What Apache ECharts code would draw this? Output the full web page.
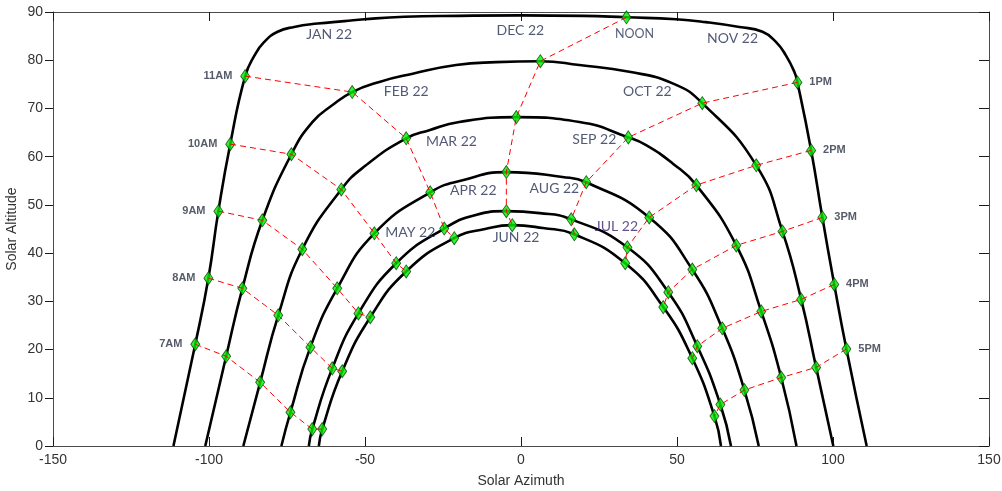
<!DOCTYPE html>
<html><head><meta charset="utf-8">
<script src="https://cdn.jsdelivr.net/npm/echarts@6/dist/echarts.min.js"></script>
<style>html,body{margin:0;padding:0;background:#fff}#c{width:1002px;height:491px}</style>
</head><body><div id="c"></div>
<script>
// ---------- DATA ----------
const hours = ['7AM','8AM','9AM','10AM','11AM','NOON','1PM','2PM','3PM','4PM','5PM'];
const xTickValues = [-150, -100, -50, 0, 50, 100, 150];
const yTickValues = [0, 10, 20, 30, 40, 50, 60, 70, 80, 90];

// Hour markers on each sun-path curve (azimuth, altitude), 7AM..5PM
const decAz  = [-104.4, -100.2, -97.0, -93.2, -88.4, 33.8, 88.6, 93.0, 96.6, 100.4, 104.3];
const decAlt = [21.1, 34.8, 48.7, 62.6, 76.7, 88.9, 75.4, 61.3, 47.4, 33.5, 20.1];
const febAz  = [-94.5, -89.3, -82.9, -73.6, -54.1, 6.2, 58.1, 75.4, 83.8, 89.8, 94.6];
const febAlt = [18.6, 32.7, 46.8, 60.5, 73.4, 79.8, 71.1, 58.2, 44.5, 30.4, 16.3];
const marAz  = [-83.6, -77.8, -70.1, -57.6, -36.8, -1.5, 34.4, 56.2, 69.0, 77.0, 83.4];
const marAlt = [13.2, 27.1, 40.8, 53.2, 63.8, 68.2, 64.0, 54.1, 41.6, 27.9, 14.2];
const aprAz  = [-73.9, -67.5, -58.9, -47.0, -29.1, -4.7, 20.9, 41.1, 54.9, 64.5, 71.6];
const aprAlt = [7.0, 20.5, 32.7, 44.1, 52.6, 56.8, 54.7, 47.4, 36.6, 24.4, 11.6];
const mayAz  = [-66.9, -60.5, -52.1, -40.0, -24.6, -4.7, 16.1, 34.1, 47.2, 56.5, 63.9];
const mayAlt = [3.5, 16.1, 27.5, 37.9, 45.1, 48.7, 47.0, 41.2, 31.9, 20.7, 8.6];
const junAz  = [-63.7, -57.3, -48.3, -36.8, -21.4, -2.8, 17.1, 33.4, 45.6, 54.9, 62.0];
const junAlt = [3.5, 15.5, 26.7, 36.2, 43.1, 45.8, 43.9, 37.9, 28.8, 18.2, 6.2];

// Extra points along each sun-path curve
const decPath = [[-111.4,0],[-85.4,81.0],[-82.3,83.8],[-78.0,85.9],[-72.7,86.9],[-65.2,87.6],[-56.6,88.1],[-50.2,88.5],[-37.4,89.0],[-20,89.2],[0,89.3],[20,89.2],[49.7,88.5],[59.3,87.9],[70.0,86.9],[77.4,85.9],[81.7,83.8],[84.9,81.0],[87.6,77.6],[110.8,0]];
const febPath = [[-101.2,0],[-66.8,67.2],[-60.4,70.7],[-45.4,75.5],[-34.7,77.2],[-20.8,79.0],[-8,79.6],[18.7,79.0],[34.7,77.6],[48.6,75.2],[100.1,0]];
const marPath = [[-89.0,0],[-49.7,58.2],[-29.4,65.5],[-19.8,67.2],[18.7,67.2],[40.1,62.4],[48.6,58.6],[88.3,0]];
const aprPath = [[-76.8,0],[-18.7,55.1],[13.3,55.8],[76.2,0]];
const mayPath = [[-68.0,0],[-14.5,47.9],[6,48.3],[67.3,0]];
const junPath = [[-64.8,0],[-11.5,45.0],[7,45.2],[64.1,0]];

// Month labels
const monthNames = ['JAN 22','DEC 22','NOV 22','FEB 22','OCT 22','MAR 22','SEP 22','APR 22','AUG 22','MAY 22','JUL 22','JUN 22'];
const monthAz  = [-61.5, -0.2, 67.8, -36.8, 40.5, -22.3, 23.5, -15.3, 10.7, -35.5, 30.6, -1.6];
const monthAlt = [85.3, 86.2, 84.5, 73.6, 73.5, 63.2, 63.5, 53.0, 53.4, 44.3, 45.6, 43.2];

// ---------- BUILD ----------
const curves = [
  [decAz, decAlt, decPath], [febAz, febAlt, febPath], [marAz, marAlt, marPath],
  [aprAz, aprAlt, aprPath], [mayAz, mayAlt, mayPath], [junAz, junAlt, junPath]
];
const series = [];
curves.forEach(([az, alt, extra]) => {
  const pts = az.map((a, i) => [a, alt[i]]).concat(extra).sort((p, q) => p[0] - q[0]);
  series.push({
    type: 'line', data: pts, smooth: 0.5, showSymbol: false, symbol: 'none',
    lineStyle: { color: '#000', width: 2.6 }, z: 2, silent: true, animation: false
  });
});
// markers
const markerPts = [];
curves.slice(1).forEach(([az, alt]) => az.forEach((a, i) => markerPts.push([a, alt[i]])));
const markerStyle = { color: '#00f000', borderColor: '#0b3d0b', borderWidth: 0.9 };
series.push({
  type: 'scatter', data: markerPts, symbol: 'diamond', symbolSize: [9, 13],
  itemStyle: markerStyle, z: 3, animation: false
});
// outer curve markers with hour labels
const hourFont = { fontFamily: 'Liberation Sans', fontWeight: 'bold', fontSize: 11, color: '#2b3244' };
series.push({
  type: 'scatter', symbol: 'diamond', symbolSize: [9, 13], itemStyle: markerStyle, z: 3, animation: false,
  data: decAz.map((a, i) => {
    let label;
    if (i < 5) label = Object.assign({ show: true, position: 'left', distance: 8 }, hourFont);
    else if (i > 5) label = Object.assign({ show: true, position: 'right', distance: 7 }, hourFont);
    else label = { show: true, position: 'bottom', distance: 3, offset: [8, 0], fontFamily: 'Lato', fontSize: 12.5, color: '#2b3454' };
    return { value: [a, decAlt[i]], label: Object.assign(label, { formatter: hours[i] }) };
  })
});
// hour lines
hours.forEach((h, i) => {
  series.push({
    type: 'line', data: curves.map(c => [c[0][i], c[1][i]]), smooth: false, showSymbol: false, symbol: 'none',
    lineStyle: { color: '#ff0000', width: 1, type: [6, 4] }, z: 4, silent: true, animation: false
  });
});
// month labels
series.push({
  type: 'scatter', symbolSize: 0, silent: true, z: 5, animation: false,
  data: monthNames.map((m, i) => ({
    value: [monthAz[i], monthAlt[i]],
    label: { show: true, position: 'inside', formatter: m, fontFamily: 'Lato',
      fontSize: 14, color: m === 'JUL 22' ? '#3a2470' : '#263052' }
  }))
});

const axisLine = { show: true, onZero: false, lineStyle: { color: '#4a4a4a', width: 1 } };
const tickStyle = { color: '#1a1a1a', width: 1 };
const tickLabel = { fontFamily: 'Liberation Sans', fontSize: 14, color: '#333' };
const chart = echarts.init(document.getElementById('c'), null, { renderer: 'canvas' });
chart.setOption({
  animation: false,
  backgroundColor: '#fff',
  grid: { left: 53, right: 13, top: 12, bottom: 45, containLabel: false, outerBoundsMode: 'none' },
  xAxis: [
    { type: 'value', position: 'bottom', min: xTickValues[0], max: xTickValues[xTickValues.length - 1], interval: xTickValues[1] - xTickValues[0],
      splitLine: { show: false }, axisLine: axisLine,
      axisTick: { show: true, inside: true, length: 9, lineStyle: tickStyle },
      axisLabel: Object.assign({ margin: 7 }, tickLabel),
      name: 'Solar Azimuth', nameLocation: 'middle', nameGap: 28, nameMoveOverlap: false,
      nameTextStyle: { fontFamily: 'Liberation Sans', fontSize: 14, color: '#333' } },
    { type: 'value', position: 'top', min: xTickValues[0], max: xTickValues[xTickValues.length - 1], interval: xTickValues[1] - xTickValues[0],
      splitLine: { show: false }, axisLine: axisLine,
      axisTick: { show: true, inside: true, length: 9, lineStyle: tickStyle },
      axisLabel: { show: false } }
  ],
  yAxis: [
    { type: 'value', position: 'left', min: yTickValues[0], max: yTickValues[yTickValues.length - 1], interval: yTickValues[1] - yTickValues[0],
      splitLine: { show: false }, axisLine: axisLine,
      axisTick: { show: true, inside: false, length: 8, lineStyle: tickStyle },
      axisLabel: Object.assign({ margin: 10 }, tickLabel),
      name: 'Solar Altitude', nameLocation: 'middle', nameGap: 34, nameMoveOverlap: false,
      nameTextStyle: { fontFamily: 'Liberation Sans', fontSize: 14, color: '#333' } },
    { type: 'value', position: 'right', min: yTickValues[0], max: yTickValues[yTickValues.length - 1], interval: yTickValues[1] - yTickValues[0],
      splitLine: { show: false }, axisLine: axisLine,
      axisTick: { show: true, inside: true, length: 10, lineStyle: tickStyle },
      axisLabel: { show: false } }
  ],
  series: series
});
</script></body></html>
